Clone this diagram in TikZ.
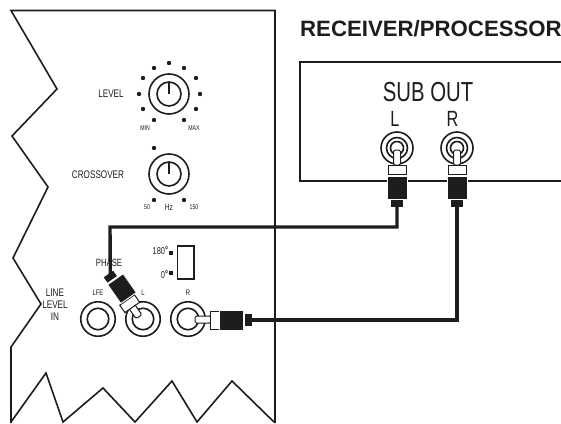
\documentclass[tikz,border=0pt]{standalone}
\usepackage{fontspec}
\setmainfont{Liberation Sans}
\newfontfamily\condf[FakeStretch=0.74]{Liberation Sans}
\newcommand{\fsz}[1]{\fontsize{#1}{#1}\selectfont}
\definecolor{ink}{HTML}{1E1C1D}
\tikzset{
  outline/.style={draw=ink,line width=1.6pt,line join=miter,fill=none},
  lbl/.style={inner sep=0pt,outer sep=0pt,text=ink,font=\condf\fsz{#1}},
  lbl/.default=11,
  dotmark/.style={circle,fill=ink,inner sep=0pt,minimum size=4.4pt},
  ring/.style={circle,draw=ink,line width=1.6pt,fill=white,inner sep=0pt,outer sep=0pt,minimum size=#1},
  pointer/.style={draw=ink,line width=1.6pt},
  squaremark/.style={fill=ink,inner sep=0pt,minimum size=4pt},
  stem/.style={rectangle,draw=ink,line width=1pt,fill=white,inner sep=0pt,outer sep=0pt,rounded corners=1.5pt,minimum width=#1,minimum height=7pt},
  collar/.style={rectangle,draw=ink,line width=1pt,fill=white,inner sep=0pt,outer sep=0pt,minimum width=#1,minimum height=18pt},
  body/.style={rectangle,fill=ink,draw=white,line width=0.9pt,inner sep=0pt,outer sep=0pt,minimum width=#1,minimum height=20pt},
  tip/.style={rectangle,fill=ink,inner sep=0pt,outer sep=0pt,minimum width=#1,minimum height=11.5pt},
  cable/.style={draw=ink,line width=3.4pt,line join=miter},
}
\begin{document}
\begin{tikzpicture}[x=1pt,y=-1pt]
\useasboundingbox (0,0) rectangle (561,423);
% subwoofer panel
\draw[outline] (275,423) -- (275,10.5) -- (11,10.5) -- (57,89) -- (12,136) -- (48,187) -- (13,258) -- (41,304) -- (11,347) -- (11,423);
\draw[outline] (11,422) -- (46,373) -- (63,422) -- (103,388) -- (135,422) -- (172,381) -- (197,422) -- (232,381) -- (274,422);
% level
\node[ring=40pt] (lvlO) at (169,94) {};
\node[ring=24pt] (lvlI) at (169,94) {};
\draw[pointer] (lvlI.north) -- (lvlI.center);
\foreach \x/\y in {169/63,154/68,184/68,143/78,196/78,139/94,200/94,143/109,196/109,154/120,184/120}
  \node[dotmark] at (\x,\y) {};
\node[lbl] (tLevel) at (111,94) {LEVEL};
\node[lbl=7] (tMin) at (145,128) {MIN};
\node[lbl=7] (tMax) at (194,128) {MAX};
% crossover
\node[ring=40pt] (xO) at (169,174) {};
\node[ring=24pt] (xI) at (169,174) {};
\draw[pointer] (xI.north) -- (xI.center);
\foreach \x/\y in {154/148,154/200,184/200}
  \node[dotmark] at (\x,\y) {};
\node[lbl] (tCross) at (98,175) {CROSSOVER};
\node[lbl=7] (t50) at (147,207) {50};
\node[lbl=9] (tHz) at (169,207) {Hz};
\node[lbl=7] (t150) at (194,207) {150};
% phase
\node[lbl=10.5] (tPhase) at (109,263) {PHASE};
\node[rectangle,draw=ink,line width=1.5pt,inner sep=0pt,minimum width=16.5pt,minimum height=33pt] (sw) at (185.5,262.5) {};
\node[squaremark] at (171,253) {};
\node[squaremark] at (171,273) {};
\node[lbl=10,anchor=east] (t180) at (168,251) {180\raisebox{1pt}{\textbf{°}}};
\node[lbl=10,anchor=east] (t0) at (168,275) {0\raisebox{1pt}{\textbf{°}}};
% line level
\node[lbl] (t1) at (55,293) {LINE};
\node[lbl] (t2) at (55,305) {LEVEL};
\node[lbl] (t3) at (55,317) {IN};
\node[lbl=8] (tLFE) at (98,293) {LFE};
\node[lbl=8] (tL) at (143,293) {L};
\node[lbl=8] (tR) at (188,293) {R};
% input jacks
\foreach \n/\x in {LFE/98,InL/143,InR/188}{
  \node[ring=34.5pt] (j\n O) at (\x,319) {};
  \node[ring=21.5pt] (j\n I) at (\x,319) {};
}
% receiver
\node[anchor=west,inner sep=0pt,text=ink,font=\bfseries\fsz{22.2}] (title) at (300,29) {RECEIVER/PROCESSOR};
\draw[outline] (561,62) -- (300,62) -- (300,181) -- (561,181);
\node[lbl=27.5] (tSub) at (428,92) {SUB OUT};
\node[lbl=22] (tOutL) at (395,118.5) {L};
\node[lbl=22] (tOutR) at (452.5,118.5) {R};
% output jacks
\foreach \n/\x in {L/397,R/457}{
  \node[ring=32pt] (o\n O) at (\x,148) {};
  \node[ring=21pt] (o\n M) at (\x,148) {};
  \node[ring=13pt] (o\n I) at (\x,148) {};
  % plug pointing down
  \node[stem=15pt,rotate=90] (s\n) at (\x,157.5) {};
  \node[collar=9pt,rotate=90] (c\n) at (\x,170) {};
  \node[body=23pt,rotate=90] (b\n) at (\x,187.5) {};
  \node[tip=7pt,rotate=90] (tp\n) at (\x,203.5) {};
}
% R input plug
\node[stem=16pt] (sInR) at (203,319.5) {};
\node[collar=9pt] (cInR) at (214.5,320.5) {};
\node[body=24pt] (bInR) at (231.5,320) {};
\node[tip=7pt] (tpInR) at (248.5,320) {};
% L input plug
\node[stem=14pt,rotate=-55] (sInL) at (135,311) {};
\node[collar=9pt,rotate=-55,minimum height=18pt] (cInL) at (129.7,303.7) {};
\node[body=23pt,rotate=-55,minimum height=19pt] (bInL) at (122,288.6) {};
\node[tip=6.5pt,rotate=-55] (tpInL) at (110.3,276.7) {};
% cables
\coordinate (cornerL) at (110,227);
\draw[cable] (tpL.west) -- (397,227) -- (cornerL) -- (tpInL.center);
\draw[cable] (tpR.west) |- (tpInR.east);
\end{tikzpicture}
\end{document}
